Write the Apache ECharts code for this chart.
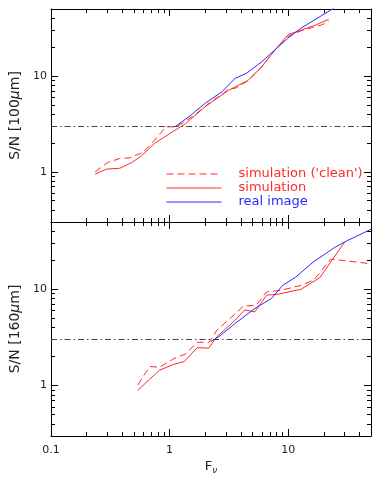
<!DOCTYPE html>
<html>
<head>
<meta charset="utf-8">
<script src="https://cdn.jsdelivr.net/npm/echarts@6/dist/echarts.min.js"></script>
<style>html,body{margin:0;padding:0;background:#fff}#c{width:382px;height:477px}</style>
</head>
<body>
<div id="c"></div>
<script>
// ---- Data ----
const seriesNames = ["simulation ('clean')", "simulation", "real image"];
const xTickLabels = ["0.1", "1", "10"];
const yTickLabels = ["1", "10"];
const snThreshold = 3;

// Top panel: S/N [100um]
const topCleanX = [0.236, 0.3, 0.38, 0.46, 0.6, 0.75, 0.93, 1.13, 1.3, 1.7, 2.2, 2.8, 3.14, 3.57, 4.5, 6.0, 7.7, 10, 12.8, 16, 19, 22];
const topCleanY = [1.0, 1.25, 1.38, 1.4, 1.6, 2.15, 2.95, 2.95, 3.25, 4.1, 5.3, 6.5, 7.3, 7.45, 8.8, 12.5, 18.5, 26, 29.5, 32, 34, 37];
const topSimX = [0.236, 0.295, 0.38, 0.48, 0.58, 0.75, 1.0, 1.37, 2.0, 3.14, 4.6, 6.0, 7.7, 10, 12.8, 17, 22];
const topSimY = [0.95, 1.07, 1.09, 1.25, 1.47, 1.99, 2.5, 3.2, 4.8, 7.1, 9.0, 12.5, 18.5, 27, 30, 34, 39];
const topRealX = [1.13, 1.46, 2.0, 2.77, 3.57, 4.47, 6.0, 9.9, 12.8, 24.3];
const topRealY = [3.0, 3.77, 5.2, 6.86, 9.46, 10.7, 14.1, 24.7, 31.5, 51];

// Bottom panel: S/N [160um]
const botCleanX = [0.54, 0.68, 0.82, 1.06, 1.37, 1.71, 2.14, 2.51, 3.35, 4.2, 5.4, 6.6, 8.7, 12.8, 16.5, 22.8, 26.7, 50];
const botCleanY = [1.02, 1.58, 1.55, 1.88, 2.14, 2.82, 2.8, 3.77, 5.18, 6.7, 6.85, 9.4, 9.75, 11, 12.5, 20.5, 20.2, 18.4];
const botSimX = [0.54, 0.68, 0.82, 1.06, 1.33, 1.71, 2.14, 2.51, 3.57, 4.3, 5.25, 6.6, 8.2, 12.8, 18.5, 30];
const botSimY = [0.89, 1.17, 1.44, 1.65, 1.78, 2.48, 2.45, 3.22, 4.79, 6.1, 5.85, 8.7, 8.9, 10.0, 13.2, 31];
const botRealX = [2.21, 2.6, 3.57, 5.25, 7.2, 9.0, 11.5, 16.2, 25, 31.5, 50];
const botRealY = [2.86, 3.22, 4.42, 6.33, 8.0, 11, 13.3, 19.1, 27.5, 32, 42];

const zip = (xs, ys) => xs.map((x, i) => [x, ys[i]]);

const RED = '#ff2a2a', BLUE = '#2a2aff';
const FONT = 'DejaVu Sans';

function xAx(grid, pos, showLabels, name) {
  return {
    type: 'log', gridIndex: grid, position: pos, min: 0.1, max: 50,
    axisLine: { show: true, lineStyle: { color: '#000', width: 1 } },
    axisTick: { show: true, inside: true, length: 7, lineStyle: { color: '#000' } },
    minorTick: { show: true, splitNumber: 9, length: 4, lineStyle: { color: '#000' } },
    splitLine: { show: false },
    axisLabel: {
      show: showLabels, showMinLabel: true, showMaxLabel: false, margin: 9,
      color: '#222', fontSize: 11, fontFamily: FONT,
      formatter: v => { const s = String(+v.toPrecision(6)); return xTickLabels.indexOf(s) >= 0 ? s : ''; }
    },
    name: name || '', nameLocation: 'middle', nameGap: 22,
    nameTextStyle: {
      color: '#222', fontSize: 13, fontFamily: FONT,
      rich: { sub: { fontSize: 9, fontFamily: FONT, color: '#222', fontStyle: 'italic', padding: [8, 0, 0, 0] } }
    }
  };
}
function yAx(grid, pos, showLabels, name) {
  return {
    type: 'log', gridIndex: grid, position: pos, min: 0.3, max: 50,
    axisLine: { show: true, lineStyle: { color: '#000', width: 1 } },
    axisTick: { show: true, inside: true, length: 7, lineStyle: { color: '#000' } },
    minorTick: { show: true, splitNumber: 9, length: 4, lineStyle: { color: '#000' } },
    splitLine: { show: false },
    axisLabel: {
      show: showLabels, showMinLabel: false, showMaxLabel: false, margin: 4,
      color: '#222', fontSize: 11, fontFamily: FONT,
      formatter: v => { const s = String(+v.toPrecision(6)); return yTickLabels.indexOf(s) >= 0 ? s : ''; }
    },
    name: name || '', nameLocation: 'middle', nameRotate: 90, nameGap: 29,
    nameTextStyle: {
      color: '#222', fontSize: 14, fontFamily: FONT,
      rich: { it: { fontSize: 14, fontFamily: FONT, color: '#222', fontStyle: 'italic' } }
    }
  };
}

function line(name, data, xi, yi, color, dashed, withMark) {
  const s = {
    name, type: 'line', data, xAxisIndex: xi, yAxisIndex: yi,
    symbol: 'none', showSymbol: false, smooth: false, clip: true,
    lineStyle: { color, width: 1, type: dashed ? [7, 4] : 'solid' },
    itemStyle: { color }, z: 3
  };
  if (withMark) {
    s.markLine = {
      silent: true, symbol: ['none', 'none'], label: { show: false },
      lineStyle: { color: '#444', width: 1, type: [6, 3, 1.5, 3] },
      data: [{ yAxis: snThreshold }]
    };
  }
  return s;
}

const chart = echarts.init(document.getElementById('c'), null, { renderer: 'canvas' });
chart.setOption({
  animation: false,
  backgroundColor: '#fff',
  grid: [
    { left: 47, top: 9, width: 324, height: 213, containLabel: false },
    { left: 47, top: 222, width: 324, height: 214, containLabel: false }
  ],
  xAxis: [
    xAx(0, 'bottom', false), xAx(0, 'top', false),
    xAx(1, 'bottom', true, 'F{sub|ν}'), xAx(1, 'top', false)
  ],
  yAxis: [
    yAx(0, 'left', true, 'S/N [100{it|μ}m]'), yAx(0, 'right', false),
    yAx(1, 'left', true, 'S/N [160{it|μ}m]'), yAx(1, 'right', false)
  ],
  legend: {
    orient: 'vertical', left: 161, top: 162, itemWidth: 55, itemHeight: 2, itemGap: 0,
    selectedMode: false,
    itemStyle: { opacity: 0, borderWidth: 0 },
    lineStyle: { width: 1 },
    textStyle: { fontSize: 13, fontFamily: FONT, lineHeight: 14, padding: [0, 0, 0, 12] },
    data: [
      { name: seriesNames[0], textStyle: { color: RED } },
      { name: seriesNames[1], textStyle: { color: RED } },
      { name: seriesNames[2], textStyle: { color: BLUE } }
    ]
  },
  series: [
    line(seriesNames[0], zip(topCleanX, topCleanY), 0, 0, RED, true, true),
    line(seriesNames[1], zip(topSimX, topSimY), 0, 0, RED, false),
    line(seriesNames[2], zip(topRealX, topRealY), 0, 0, BLUE, false),
    line(seriesNames[0], zip(botCleanX, botCleanY), 2, 2, RED, true, true),
    line(seriesNames[1], zip(botSimX, botSimY), 2, 2, RED, false),
    line(seriesNames[2], zip(botRealX, botRealY), 2, 2, BLUE, false)
  ]
});
</script>
</body>
</html>
